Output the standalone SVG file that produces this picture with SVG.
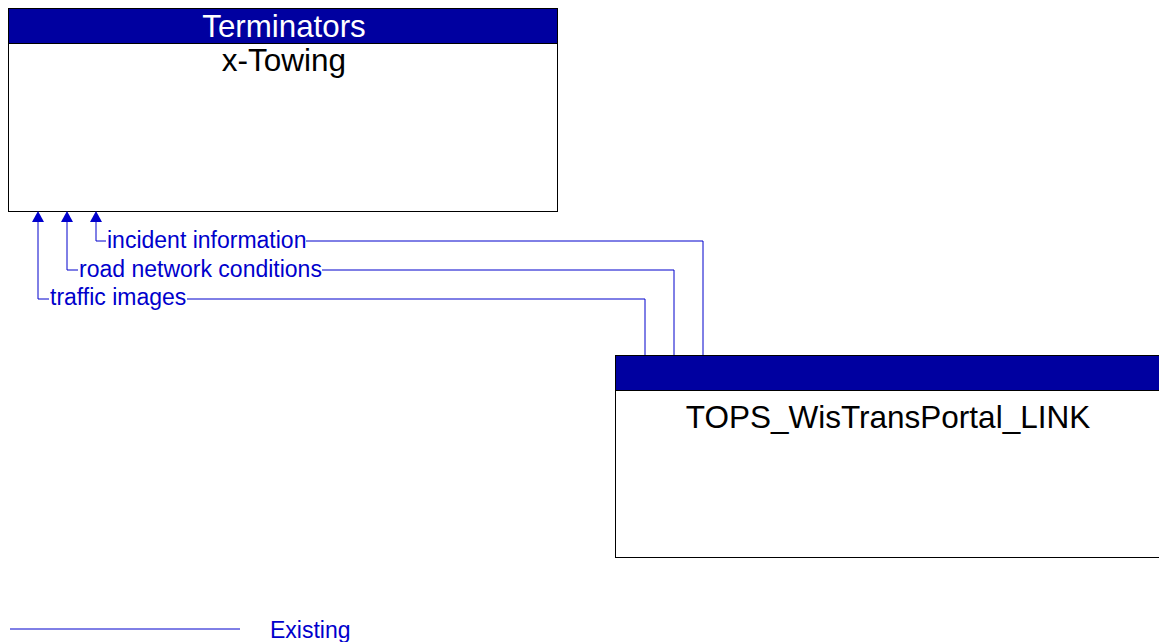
<svg xmlns="http://www.w3.org/2000/svg" width="1159" height="642" viewBox="0 0 1159 642">
<style>
.box{fill:#fff;stroke:#000;stroke-width:1}
.hdr{fill:#0000A0;stroke:#000;stroke-width:1}
.htxt{font-family:"Liberation Sans",Arial,sans-serif;font-size:31.3px;fill:#fff;text-anchor:middle}
.ntxt{font-family:"Liberation Sans",Arial,sans-serif;font-size:31.5px;fill:#000;text-anchor:middle}
.flow{fill:none;stroke:#0000CC;stroke-width:1}
.ltxt{font-family:"Liberation Sans",Arial,sans-serif;font-size:23px;fill:#0000CC}
.ah{fill:#0000CC}
</style>
<g id="node-x-towing">
<rect class="box" x="8.5" y="8.5" width="549" height="203"/>
<rect class="hdr" x="8.5" y="8.5" width="549" height="35"/>
<text class="htxt" x="284" y="37">Terminators</text>
<text class="ntxt" x="284" y="71">x-Towing</text>
</g>
<g id="node-tops">
<rect class="box" x="615.5" y="355.5" width="545" height="202"/>
<rect class="hdr" x="615.5" y="355.5" width="545" height="35"/>
<text class="ntxt" x="888" y="428">TOPS_WisTransPortal_LINK</text>
</g>
<g id="connectors">
<g id="flow-incident">
<polyline class="flow" points="106,241 96,241 96,220"/>
<polyline class="flow" points="306,241 703,241 703,355"/>
<path class="ah" d="M90,222 L96,211 L102,222 Z"/>
<text class="ltxt" x="107" y="248">incident information</text>
</g>
<g id="flow-road">
<polyline class="flow" points="78,270 67,270 67,220"/>
<polyline class="flow" points="322,270 674,270 674,355"/>
<path class="ah" d="M61,222 L67,211 L73,222 Z"/>
<text class="ltxt" x="79" y="277">road network conditions</text>
</g>
<g id="flow-traffic">
<polyline class="flow" points="49,299 38,299 38,220"/>
<polyline class="flow" points="187,299 645,299 645,355"/>
<path class="ah" d="M32,222 L38,211 L44,222 Z"/>
<text class="ltxt" x="50" y="305">traffic images</text>
</g>
</g>
<g id="legend">
<line class="flow" x1="10" y1="629" x2="240" y2="629"/>
<text class="ltxt" x="270" y="638">Existing</text>
</g>
</svg>
